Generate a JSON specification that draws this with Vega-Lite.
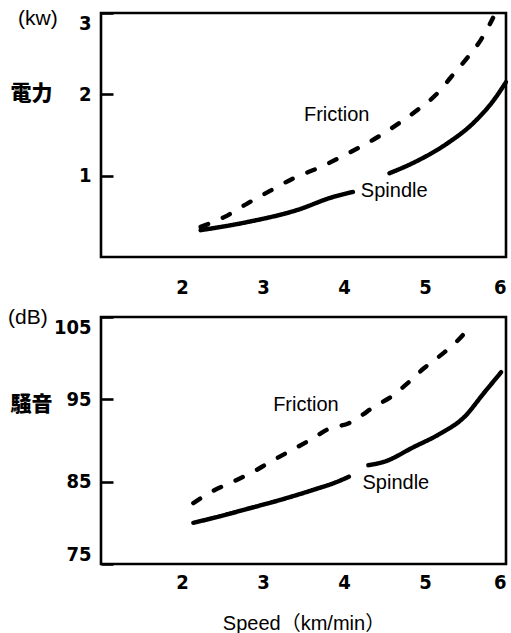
{
  "$schema": "https://vega.github.io/schema/vega-lite/v6.json",
  "autosize": {"type": "pad"},
  "padding": {"left": 6, "top": 6, "right": 5, "bottom": 4},
  "background": "white",
  "bounds": "flush",
  "spacing": 60,
  "config": {
    "view": {"stroke": "black", "strokeWidth": 2.6},
    "font": "Liberation Sans",
    "axis": {
      "grid": false,
      "domain": false,
      "format": "d",
      "labelFont": "Liberation Sans Narrow, DejaVu Sans Condensed",
      "labelFontWeight": "bold",
      "labelFontSize": 20,
      "labelColor": "black",
      "titleColor": "black"
    },
    "axisX": {"ticks": false, "tickSize": 0},
    "axisY": {
      "ticks": true,
      "tickSize": -12,
      "tickWidth": 2.6,
      "tickColor": "black",
      "labelPadding": 22,
      "labelFlush": true,
      "titleAngle": 0,
      "titleAlign": "center",
      "titleBaseline": "middle",
      "titleX": -70,
      "titleFont": "Noto Sans CJK JP",
      "titleFontWeight": 900,
      "titleFontSize": 21
    },
    "title": {
      "anchor": "start",
      "frame": "group",
      "orient": "top",
      "offset": 0,
      "baseline": "middle",
      "font": "Liberation Sans",
      "fontSize": 21,
      "fontWeight": "normal",
      "color": "black"
    },
    "text": {"font": "Liberation Sans", "fontSize": 20, "align": "center", "baseline": "middle", "color": "black"},
    "line": {"color": "black", "strokeWidth": 4.4, "strokeCap": "round", "strokeJoin": "round", "interpolate": "monotone"}
  },
  "datasets": {
    "curves": [
      {"panel": "power", "series": "Friction", "seg": "f", "speed": 2.23, "value": 0.37},
      {"panel": "power", "series": "Friction", "seg": "f", "speed": 2.52, "value": 0.49},
      {"panel": "power", "series": "Friction", "seg": "f", "speed": 2.81, "value": 0.66},
      {"panel": "power", "series": "Friction", "seg": "f", "speed": 3.1, "value": 0.82},
      {"panel": "power", "series": "Friction", "seg": "f", "speed": 3.38, "value": 0.97},
      {"panel": "power", "series": "Friction", "seg": "f", "speed": 3.72, "value": 1.11},
      {"panel": "power", "series": "Friction", "seg": "f", "speed": 4.0, "value": 1.25},
      {"panel": "power", "series": "Friction", "seg": "f", "speed": 4.25, "value": 1.38},
      {"panel": "power", "series": "Friction", "seg": "f", "speed": 4.49, "value": 1.52},
      {"panel": "power", "series": "Friction", "seg": "f", "speed": 4.7, "value": 1.66},
      {"panel": "power", "series": "Friction", "seg": "f", "speed": 4.91, "value": 1.81},
      {"panel": "power", "series": "Friction", "seg": "f", "speed": 5.16, "value": 2.02},
      {"panel": "power", "series": "Friction", "seg": "f", "speed": 5.32, "value": 2.21},
      {"panel": "power", "series": "Friction", "seg": "f", "speed": 5.53, "value": 2.46},
      {"panel": "power", "series": "Friction", "seg": "f", "speed": 5.69, "value": 2.67},
      {"panel": "power", "series": "Friction", "seg": "f", "speed": 5.84, "value": 2.94},
      {"panel": "power", "series": "Spindle", "seg": "s1", "speed": 2.23, "value": 0.33},
      {"panel": "power", "series": "Spindle", "seg": "s1", "speed": 2.81, "value": 0.43},
      {"panel": "power", "series": "Spindle", "seg": "s1", "speed": 3.43, "value": 0.58},
      {"panel": "power", "series": "Spindle", "seg": "s1", "speed": 3.84, "value": 0.73},
      {"panel": "power", "series": "Spindle", "seg": "s1", "speed": 4.11, "value": 0.8},
      {"panel": "power", "series": "Spindle", "seg": "s2", "speed": 4.56, "value": 1.03},
      {"panel": "power", "series": "Spindle", "seg": "s2", "speed": 4.86, "value": 1.16},
      {"panel": "power", "series": "Spindle", "seg": "s2", "speed": 5.28, "value": 1.4},
      {"panel": "power", "series": "Spindle", "seg": "s2", "speed": 5.6, "value": 1.65},
      {"panel": "power", "series": "Spindle", "seg": "s2", "speed": 5.85, "value": 1.93},
      {"panel": "power", "series": "Spindle", "seg": "s2", "speed": 6.0, "value": 2.15},
      {"panel": "noise", "series": "Friction", "seg": "f", "speed": 2.14, "value": 82.4},
      {"panel": "noise", "series": "Friction", "seg": "f", "speed": 2.37, "value": 83.8},
      {"panel": "noise", "series": "Friction", "seg": "f", "speed": 2.63, "value": 85.0},
      {"panel": "noise", "series": "Friction", "seg": "f", "speed": 2.88, "value": 86.2},
      {"panel": "noise", "series": "Friction", "seg": "f", "speed": 3.09, "value": 87.4},
      {"panel": "noise", "series": "Friction", "seg": "f", "speed": 3.31, "value": 88.6},
      {"panel": "noise", "series": "Friction", "seg": "f", "speed": 3.59, "value": 90.1},
      {"panel": "noise", "series": "Friction", "seg": "f", "speed": 3.83, "value": 91.5},
      {"panel": "noise", "series": "Friction", "seg": "f", "speed": 4.06, "value": 92.1},
      {"panel": "noise", "series": "Friction", "seg": "f", "speed": 4.21, "value": 93.0},
      {"panel": "noise", "series": "Friction", "seg": "f", "speed": 4.37, "value": 94.1},
      {"panel": "noise", "series": "Friction", "seg": "f", "speed": 4.58, "value": 95.3},
      {"panel": "noise", "series": "Friction", "seg": "f", "speed": 4.79, "value": 97.0},
      {"panel": "noise", "series": "Friction", "seg": "f", "speed": 4.99, "value": 98.8},
      {"panel": "noise", "series": "Friction", "seg": "f", "speed": 5.2, "value": 100.4},
      {"panel": "noise", "series": "Friction", "seg": "f", "speed": 5.41, "value": 102.2},
      {"panel": "noise", "series": "Friction", "seg": "f", "speed": 5.57, "value": 104.0},
      {"panel": "noise", "series": "Spindle", "seg": "s1", "speed": 2.14, "value": 80.0},
      {"panel": "noise", "series": "Spindle", "seg": "s1", "speed": 2.47, "value": 80.8},
      {"panel": "noise", "series": "Spindle", "seg": "s1", "speed": 2.81, "value": 81.7},
      {"panel": "noise", "series": "Spindle", "seg": "s1", "speed": 3.22, "value": 82.8},
      {"panel": "noise", "series": "Spindle", "seg": "s1", "speed": 3.62, "value": 84.0},
      {"panel": "noise", "series": "Spindle", "seg": "s1", "speed": 3.92, "value": 85.0},
      {"panel": "noise", "series": "Spindle", "seg": "s1", "speed": 4.06, "value": 85.6},
      {"panel": "noise", "series": "Spindle", "seg": "s2", "speed": 4.3, "value": 87.0},
      {"panel": "noise", "series": "Spindle", "seg": "s2", "speed": 4.49, "value": 87.4},
      {"panel": "noise", "series": "Spindle", "seg": "s2", "speed": 4.86, "value": 89.2},
      {"panel": "noise", "series": "Spindle", "seg": "s2", "speed": 5.2, "value": 90.9},
      {"panel": "noise", "series": "Spindle", "seg": "s2", "speed": 5.48, "value": 92.8},
      {"panel": "noise", "series": "Spindle", "seg": "s2", "speed": 5.73, "value": 95.8},
      {"panel": "noise", "series": "Spindle", "seg": "s2", "speed": 5.94, "value": 98.3}
    ],
    "names": [
      {"panel": "power", "text": "Friction", "speed": 3.91, "value": 1.75},
      {"panel": "power", "text": "Spindle", "speed": 4.62, "value": 0.81},
      {"panel": "noise", "text": "Friction", "speed": 3.53, "value": 94.3},
      {"panel": "noise", "text": "Spindle", "speed": 4.64, "value": 84.8}
    ]
  },
  "vconcat": [
    {
      "width": 405,
      "height": 244,
      "title": {"text": "(kw)", "dx": -83, "dy": 21},
      "layer": [
        {
          "data": {"name": "curves"},
          "transform": [{"filter": "datum.panel === 'power'"}],
          "mark": {"type": "line"},
          "encoding": {
            "x": {
              "field": "speed", "type": "quantitative",
              "scale": {"domain": [1, 6], "nice": false},
              "axis": {"values": [2, 3, 4, 5, 6], "labelPadding": 20, "title": null}
            },
            "y": {
              "field": "value", "type": "quantitative",
              "scale": {"domain": [0, 3], "nice": false, "zero": false},
              "axis": {"values": [1, 2, 3], "title": "電力", "titleY": 80}
            },
            "detail": {"field": "seg"},
            "strokeDash": {
              "field": "series", "type": "nominal",
              "scale": {"domain": ["Friction", "Spindle"], "range": [[8, 16], [1, 0]]},
              "legend": null
            }
          }
        },
        {
          "data": {"name": "names"},
          "transform": [{"filter": "datum.panel === 'power'"}],
          "mark": {"type": "text"},
          "encoding": {
            "x": {"field": "speed", "type": "quantitative"},
            "y": {"field": "value", "type": "quantitative"},
            "text": {"field": "text"}
          }
        }
      ]
    },
    {
      "width": 405,
      "height": 247,
      "title": {"text": "(dB)", "dx": -93, "dy": 16},
      "layer": [
        {
          "data": {"name": "curves"},
          "transform": [{"filter": "datum.panel === 'noise'"}],
          "mark": {"type": "line"},
          "encoding": {
            "x": {
              "field": "speed", "type": "quantitative",
              "scale": {"domain": [1, 6], "nice": false},
              "axis": {
                "values": [2, 3, 4, 5, 6],
                "labelPadding": 8,
                "title": "Speed（km/min）",
                "titleFont": "Liberation Sans, Noto Sans CJK JP",
                "titleFontSize": 20,
                "titleFontWeight": "normal",
                "titlePadding": 21
              }
            },
            "y": {
              "field": "value", "type": "quantitative",
              "scale": {"domain": [75, 105], "nice": false, "zero": false},
              "axis": {"values": [75, 85, 95, 105], "title": "騒音", "titleY": 87}
            },
            "detail": {"field": "seg"},
            "strokeDash": {
              "field": "series", "type": "nominal",
              "scale": {"domain": ["Friction", "Spindle"], "range": [[8, 14], [1, 0]]},
              "legend": null
            }
          }
        },
        {
          "data": {"name": "names"},
          "transform": [{"filter": "datum.panel === 'noise'"}],
          "mark": {"type": "text"},
          "encoding": {
            "x": {"field": "speed", "type": "quantitative"},
            "y": {"field": "value", "type": "quantitative"},
            "text": {"field": "text"}
          }
        }
      ]
    }
  ]
}
